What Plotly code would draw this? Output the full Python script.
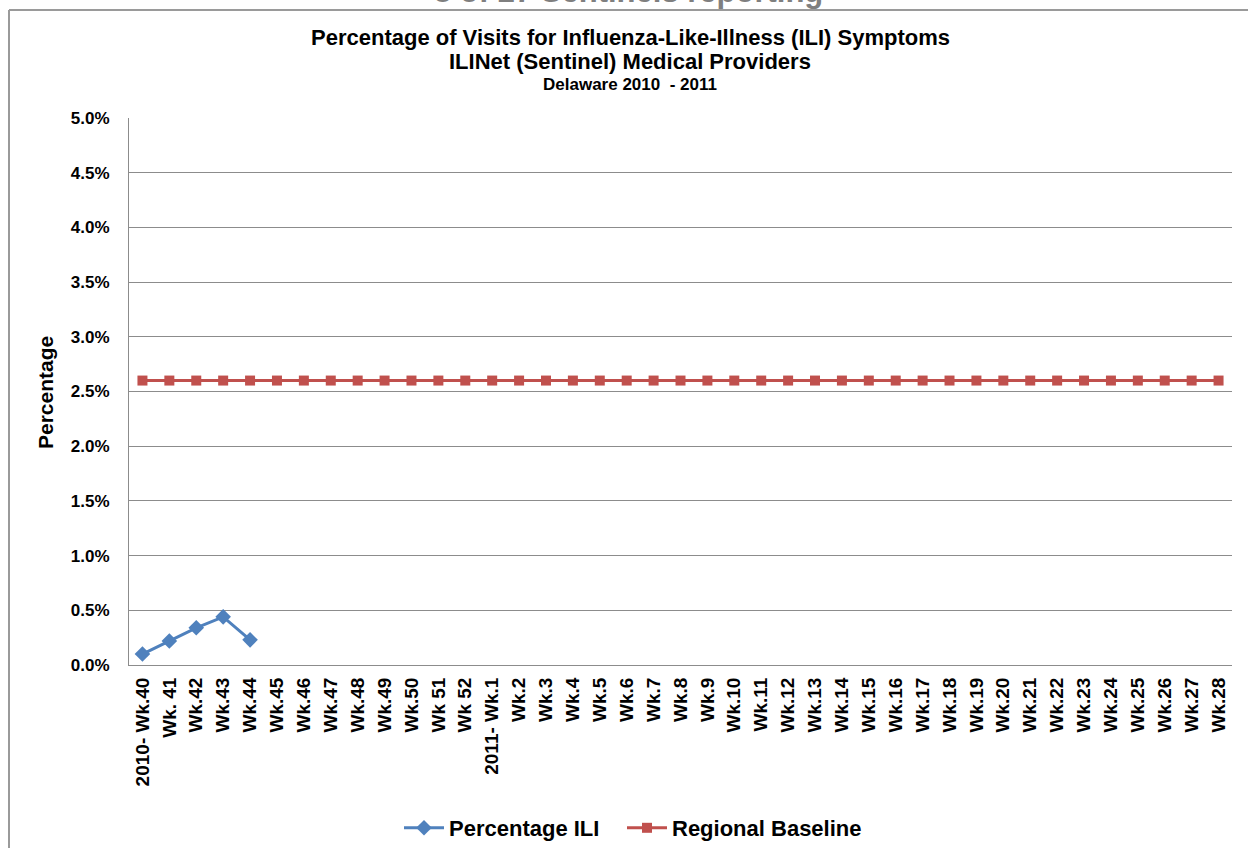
import plotly.graph_objects as go

weeks = ["2010- Wk.40", "Wk. 41", "Wk.42", "Wk.43", "Wk.44", "Wk.45", "Wk.46", "Wk.47",
         "Wk.48", "Wk.49", "Wk.50", "Wk 51", "Wk 52", "2011- Wk.1", "Wk.2", "Wk.3", "Wk.4",
         "Wk.5", "Wk.6", "Wk.7", "Wk.8", "Wk.9", "Wk.10", "Wk.11", "Wk.12", "Wk.13", "Wk.14",
         "Wk.15", "Wk.16", "Wk.17", "Wk.18", "Wk.19", "Wk.20", "Wk.21", "Wk.22", "Wk.23",
         "Wk.24", "Wk.25", "Wk.26", "Wk.27", "Wk.28"]
ili_pct = [0.0010, 0.0022, 0.0034, 0.0044, 0.0023]
baseline_pct = [0.026] * len(weeks)
y_ticks = [0, 0.005, 0.01, 0.015, 0.02, 0.025, 0.03, 0.035, 0.04, 0.045, 0.05]

FONT = "Liberation Sans, Arial, sans-serif"

fig = go.Figure()
fig.add_trace(go.Scatter(
    x=weeks[:len(ili_pct)], y=ili_pct, name="Percentage ILI", mode="lines+markers",
    line=dict(color="#4F81BD", width=3),
    marker=dict(symbol="diamond", size=12, color="#4F81BD"),
    legend="legend",
))
fig.add_trace(go.Scatter(
    x=weeks, y=baseline_pct, name="Regional Baseline", mode="lines+markers",
    line=dict(color="#C0504D", width=3),
    marker=dict(symbol="square", size=10, color="#C0504D"),
    legend="legend2",
))

L, R, T, B = 129, 1232, 118, 665
W, H = R - L, B - T

def px(x):
    return (x - L) / W

def py(y):
    return (B - y) / H

legend_common = dict(orientation="h", xref="container", yref="container",
                     y=1 - 828 / 848, xanchor="left", yanchor="middle",
                     font=dict(size=22, family=FONT, color="black", weight="bold"),
                     itemwidth=40, bgcolor="rgba(0,0,0,0)")

fig.update_layout(
    width=1248, height=848,
    margin=dict(l=L, r=1248 - R, t=T, b=848 - B, pad=0),
    paper_bgcolor="white", plot_bgcolor="white",
    font=dict(family=FONT, color="black"),
    showlegend=True,
    legend=dict(x=399 / 1248, **legend_common),
    legend2=dict(x=622 / 1248, **legend_common),
    xaxis=dict(type="category", categoryorder="array", categoryarray=weeks,
               range=[-0.5, len(weeks) - 0.5], tickangle=-90,
               tickfont=dict(size=19, family=FONT, weight="bold"),
               showgrid=False, showline=True, linecolor="#8c8c8c", linewidth=1,
               ticks="", ticklabelstandoff=4, zeroline=False),
    yaxis=dict(range=[0, 0.05], tickvals=y_ticks, tickformat=".1%",
               tickfont=dict(size=17, family=FONT, weight="bold"),
               showgrid=True, gridcolor="#8c8c8c", gridwidth=1,
               showline=True, linecolor="#8c8c8c", linewidth=1,
               ticks="", ticklabelstandoff=15, zeroline=False),
)

annotations = [
    dict(text="8 of 27 Sentinels reporting", x=px(628), y=py(11), xanchor="center", yanchor="bottom",
         font=dict(size=31, family=FONT, color="#7f7f7f", weight="bold")),
    dict(text="Percentage of Visits for Influenza-Like-Illness (ILI) Symptoms", x=px(630), y=py(37),
         xanchor="center", yanchor="middle", font=dict(size=22, family=FONT, weight="bold")),
    dict(text="ILINet (Sentinel) Medical Providers", x=px(630), y=py(61),
         xanchor="center", yanchor="middle", font=dict(size=22, family=FONT, weight="bold")),
    dict(text="Delaware 2010  - 2011", x=px(630), y=py(84),
         xanchor="center", yanchor="middle", font=dict(size=17, family=FONT, weight="bold")),
    dict(text="Percentage", x=px(45), y=py(393), xanchor="center", yanchor="middle", textangle=-90,
         font=dict(size=21, family=FONT, weight="bold")),
]
for a in annotations:
    a.update(xref="paper", yref="paper", showarrow=False)
fig.update_layout(annotations=annotations)

fig.update_layout(shapes=[
    dict(type="line", xref="paper", yref="paper", x0=px(9), x1=px(1260), y0=py(10), y1=py(10),
         line=dict(color="#9a9a9a", width=2)),
    dict(type="line", xref="paper", yref="paper", x0=px(9), x1=px(9), y0=py(10), y1=py(860),
         line=dict(color="#9a9a9a", width=2)),
])

fig.write_html("out.html", config={"displayModeBar": False},
               post_script="document.body.style.margin='0';document.body.style.overflow='hidden';")
